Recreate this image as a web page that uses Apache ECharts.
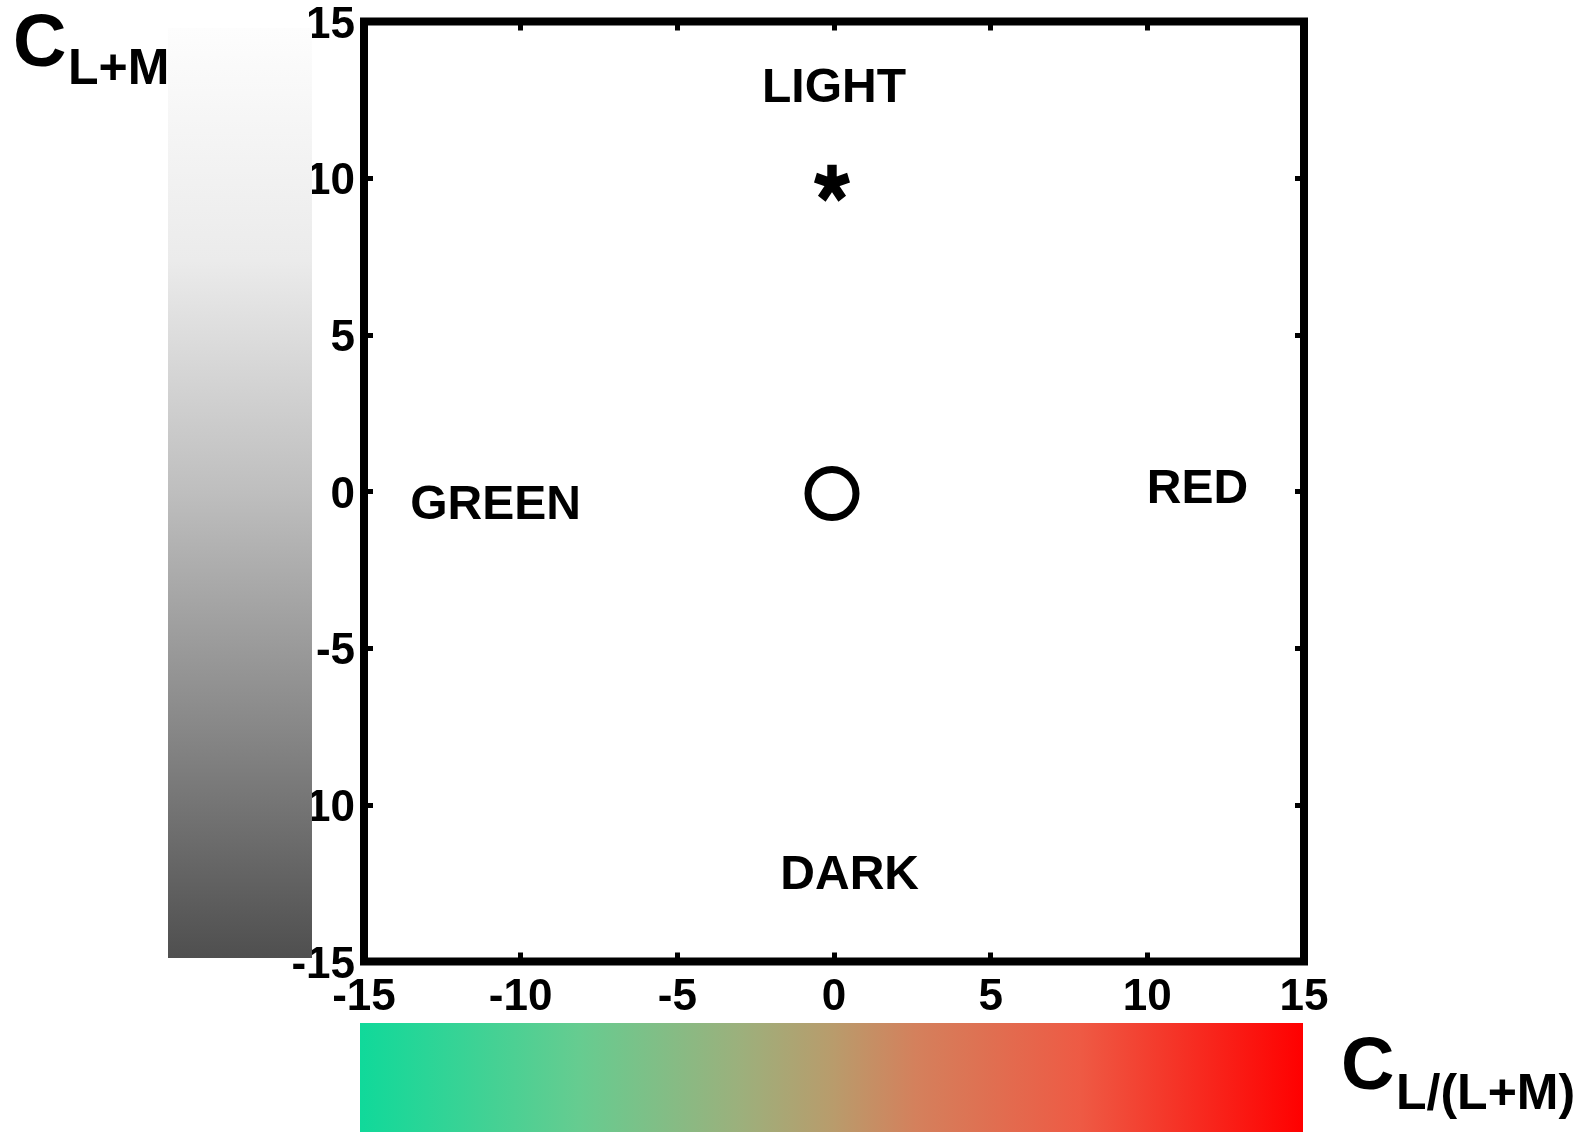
<!DOCTYPE html>
<html><head><meta charset="utf-8">
<script src="https://cdn.jsdelivr.net/npm/echarts@6/dist/echarts.min.js"></script>
<style>html,body{margin:0;padding:0;background:#fff}#c{width:1585px;height:1132px}</style>
</head><body><div id="c"></div>
<script>
// ---- data ----
const axisMin = -15, axisMax = 15, axisStep = 5;
const xTickLabels = ['-15', '-10', '-5', '0', '5', '10', '15'];
const yTickLabels = ['-15', '-10', '-5', '0', '5', '10', '15'];
const circlePoints = [[0, 0]];
const starPoints = [[0, 10]];
const regionNames = ['LIGHT', 'DARK', 'GREEN', 'RED'];
const regionX = [0, 0.5, -10.8, 11.6];
const regionY = [12.85, -12.25, -0.45, 0.07];
const grayStops = [[0, '#fdfdfd'], [0.25, '#ebebeb'], [0.5, '#bebebe'], [0.75, '#888888'], [1, '#4f4f4f']];
const chromaStops = [[0, '#10d99a'], [0.233, '#66cc90'], [0.403, '#9cb07c'], [0.5, '#b89c6c'], [0.59, '#d4805c'], [0.764, '#ee5a44'], [1, '#ff0000']];
const yTitle = ['C', 'L+M'];
const xTitle = ['C', 'L/(L+M)'];

const FONT = '"Liberation Sans", Arial, sans-serif';

function asteriskPath() {
  const w = 0.27, L = 1, off = 1.2;
  const angs = [90, 18, 162, -54, -126];
  let d = '';
  angs.forEach(a => {
    const r = a * Math.PI / 180;
    const dx = Math.cos(r), dy = -Math.sin(r);
    const nx = Math.sin(r), ny = Math.cos(r);
    const pts = [[w * nx, w * ny], [w * nx + L * dx, w * ny + L * dy], [-w * nx + L * dx, -w * ny + L * dy], [-w * nx, -w * ny]];
    d += 'M' + pts.map(p => (p[0] + off).toFixed(3) + ' ' + (p[1] + off).toFixed(3)).join(' L') + ' Z ';
  });
  return 'path://' + d;
}

const chart = echarts.init(document.getElementById('c'), null, {renderer: 'canvas'});

const labelStyle = {color: '#000', fontSize: 44, fontWeight: 'bold', fontFamily: FONT};
function mkAxis(kind, pos, showLabels, labels) {
  const lab = Object.assign({
    show: showLabels, margin: kind === 'x' ? 14 : 9, showMinLabel: true, showMaxLabel: true,
    formatter: v => labels[Math.round((v - axisMin) / axisStep)]
  }, labelStyle);
  if (kind === 'y') { lab.verticalAlign = 'top'; lab.lineHeight = 8; }
  return {
    type: 'value', position: pos, min: axisMin, max: axisMax, interval: axisStep,
    axisLine: {show: false, onZero: false},
    axisTick: {show: true, inside: true, length: 9, lineStyle: {color: '#000', width: 5}},
    splitLine: {show: false},
    axisLabel: lab
  };
}

const txt = (x, y, s, size) => ({
  type: 'text', x: x, y: y, z: 110,
  style: {text: s, fill: '#000', font: 'bold ' + size + 'px ' + FONT,
    align: 'left', verticalAlign: 'middle', textAlign: 'left', textVerticalAlign: 'middle'}
});

chart.setOption({
  animation: false,
  backgroundColor: '#fff',
  grid: {left: 364, top: 21.5, width: 940, height: 940, show: true, borderWidth: 8, borderColor: '#000', backgroundColor: 'transparent'},
  xAxis: [mkAxis('x', 'bottom', true, xTickLabels), mkAxis('x', 'top', false, xTickLabels)],
  yAxis: [mkAxis('y', 'left', true, yTickLabels), mkAxis('y', 'right', false, yTickLabels)],
  series: [
    {type: 'scatter', data: circlePoints, symbol: 'circle', symbolSize: 48, symbolOffset: [-2, 2], silent: true,
      itemStyle: {color: 'rgba(0,0,0,0)', borderColor: '#000', borderWidth: 7, opacity: 1}},
    {type: 'scatter', data: starPoints, symbol: asteriskPath(), symbolSize: [36, 37], symbolOffset: [-2, 5], silent: true,
      itemStyle: {color: '#000', opacity: 1}},
    {type: 'scatter', silent: true, symbolSize: 1, itemStyle: {color: 'rgba(0,0,0,0)', opacity: 1},
      data: regionNames.map((n, i) => ({name: n, value: [regionX[i], regionY[i]]})),
      label: Object.assign({show: true, position: 'inside', formatter: '{b}'}, labelStyle, {fontSize: 48})}
  ],
  graphic: [
    {type: 'rect', z: 100, shape: {x: 168, y: 28, width: 144, height: 930},
      style: {fill: new echarts.graphic.LinearGradient(0, 0, 0, 1, grayStops.map(s => ({offset: s[0], color: s[1]})))}},
    {type: 'rect', z: 100, shape: {x: 360, y: 1023, width: 943, height: 109},
      style: {fill: new echarts.graphic.LinearGradient(0, 0, 1, 0, chromaStops.map(s => ({offset: s[0], color: s[1]})))}},
    txt(13, 46, yTitle[0], 74), txt(68, 70, yTitle[1], 50),
    txt(1341, 1069, xTitle[0], 74), txt(1396, 1095, xTitle[1], 50)
  ]
});
</script></body></html>
